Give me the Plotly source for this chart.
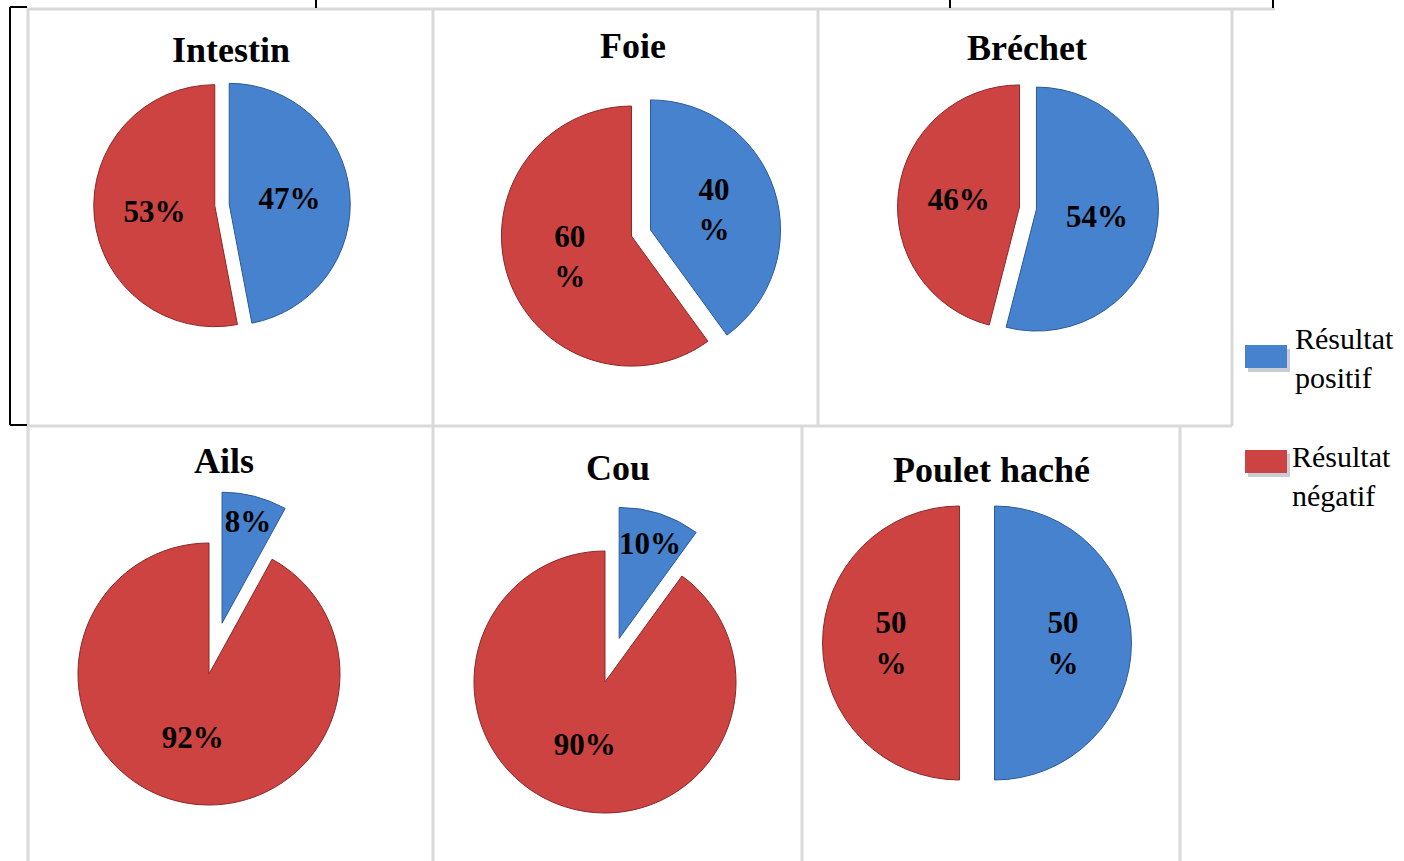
import plotly.graph_objects as go

W, H = 1404, 861

# ---- data ----
charts = ["Intestin", "Foie", "Bréchet", "Ails", "Cou", "Poulet haché"]
positive = [47, 40, 54, 8, 10, 50]
negative = [53, 60, 46, 92, 90, 50]
series_labels = ["Résultat positif", "Résultat négatif"]

# ---- layout config (pixel geometry of each pie) ----
centers = [(222, 205), (641, 233), (1028, 208), (209, 674), (605, 682), (977, 643)]
radii = [121, 130, 122, 131, 131, 137]
pulls = [(0.06, 0.06), (0.077, 0.077), (0.07, 0.07), (0.40, 0.0), (0.35, 0.0), (0.128, 0.128)]
wrapped = [False, True, False, False, False, True]
title_pos = [(231, 50), (633, 46), (1027, 48), (224, 461), (618, 468), (991, 470)]

BLUE, RED = "#4682cd", "#cc4341"
BLUE_LINE, RED_LINE = "#2c5a96", "#8a2826"
FONT = "Liberation Serif"


def px(x):
    return x / W


def py(y):
    return 1 - y / H


def label(v, wrap):
    if wrap:
        return f"<b>{v}</b><br><b>%</b>"
    return f"<b>{v}%</b>"


fig = go.Figure()
for i, name in enumerate(charts):
    cx, cy = centers[i]
    r = radii[i]
    half = r * (1 + max(pulls[i]))
    vals = [positive[i], negative[i]]
    fig.add_trace(go.Pie(
        labels=series_labels,
        values=vals,
        text=[label(v, wrapped[i]) for v in vals],
        textinfo="text",
        textposition="inside",
        insidetextorientation="horizontal",
        textfont=dict(family=FONT, size=31, color="black"),
        sort=False,
        direction="clockwise",
        rotation=0,
        pull=list(pulls[i]),
        marker=dict(colors=[BLUE, RED], line=dict(color=[BLUE_LINE, RED_LINE], width=1)),
        domain=dict(x=[px(cx - half), px(cx + half)], y=[py(cy + half), py(cy - half)]),
        showlegend=False,
        hoverinfo="label+percent",
    ))
    tx, ty = title_pos[i]
    fig.add_annotation(x=px(tx), y=py(ty), xref="paper", yref="paper", text=f"<b>{name}</b>",
                       showarrow=False, font=dict(family=FONT, size=36, color="black"),
                       xanchor="center", yanchor="middle")

shapes = []
GRAY = "#d9d9d9"


def line(x0, y0, x1, y1, color, width):
    shapes.append(dict(type="line", xref="paper", yref="paper", x0=px(x0), y0=py(y0), x1=px(x1), y1=py(y1),
                       line=dict(color=color, width=width), layer="below"))


# gray chart frames
line(27, 9, 1275, 9, GRAY, 3)
line(27, 426, 1232, 426, GRAY, 3)
for x in (28, 433, 818, 1232):
    line(x, 9, x, 426, GRAY, 3)
for x in (28, 433, 802, 1180):
    line(x, 426, x, 861, GRAY, 3)
# black table lines
line(10, 7, 10, 425, "black", 2)
line(10, 7, 27, 7, "black", 2)
line(10, 425, 27, 425, "black", 2)
for x in (316, 950, 1273):
    line(x, 0, x, 8, "black", 2)

# manual legend
leg = [(BLUE, 345, 1293, 340), (RED, 450, 1290, 458)]
for (col, sy, tx, ty), lab in zip(leg, series_labels):
    shapes.append(dict(type="rect", xref="paper", yref="paper", x0=px(1248), x1=px(1290), y0=py(sy + 27), y1=py(sy + 4),
                       fillcolor="#c9cdd6", line=dict(width=0)))
    shapes.append(dict(type="rect", xref="paper", yref="paper", x0=px(1245), x1=px(1287), y0=py(sy + 23), y1=py(sy),
                       fillcolor=col, line=dict(width=0)))
    w1, w2 = lab.split(" ")
    fig.add_annotation(x=px(tx), y=py(ty - 20), xref="paper", yref="paper", text=f"{w1}<br>{w2}",
                       showarrow=False, align="left", xanchor="left", yanchor="top",
                       font=dict(family=FONT, size=30, color="black"))

fig.update_layout(
    width=W, height=H,
    margin=dict(l=0, r=0, t=0, b=0),
    paper_bgcolor="white", plot_bgcolor="white",
    shapes=shapes,
    uniformtext=dict(minsize=31, mode="show"),
)

fig.write_html("out.html")
